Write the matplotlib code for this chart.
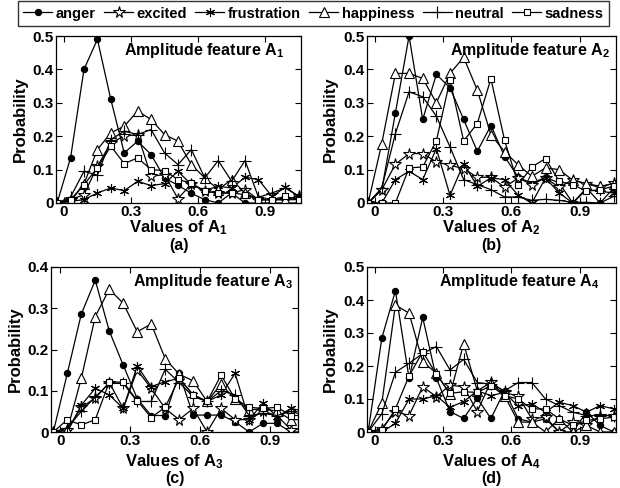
import matplotlib
matplotlib.use("Agg")
import matplotlib.pyplot as plt
import matplotlib.transforms as mtransforms

plt.rcParams['font.family'] = ['Liberation Sans', 'DejaVu Sans']
plt.rcParams['font.weight'] = 'bold'
plt.rcParams['mathtext.fontset'] = 'custom'
plt.rcParams['mathtext.rm'] = 'Liberation Sans:bold'
plt.rcParams['mathtext.it'] = 'Liberation Sans:bold'
plt.rcParams['mathtext.bf'] = 'Liberation Sans:bold'

# bin centres of the amplitude histograms
x = [-0.03, 0.03, 0.09, 0.15, 0.21, 0.27, 0.33, 0.39, 0.45, 0.51,
     0.57, 0.63, 0.69, 0.75, 0.81, 0.87, 0.93, 0.99, 1.05]

emotions = ['anger', 'excited', 'frustration', 'happiness', 'neutral', 'sadness']

# (a) amplitude feature A1
a_anger = [0, 0.135, 0.40, 0.49, 0.31, 0.15, 0.185, 0.145, 0.075, 0.053, 0.029, 0.01, 0.0, 0.03, 0.0, 0.0, 0.0, 0.0, 0.0]
a_excited = [0, 0.01, 0.025, 0.11, 0.18, 0.2, 0.205, 0.08, 0.085, 0.013, 0.057, 0.035, 0.03, 0.03, 0.04, 0.01, 0.01, 0.01, 0.02]
a_frustration = [0, 0.005, 0.01, 0.03, 0.045, 0.037, 0.065, 0.052, 0.058, 0.095, 0.055, 0.038, 0.05, 0.045, 0.077, 0.07, 0.02, 0.047, 0.02]
a_happiness = [0, 0.005, 0.057, 0.16, 0.21, 0.23, 0.275, 0.25, 0.205, 0.185, 0.115, 0.075, 0.04, 0.07, 0.03, 0.01, 0.01, 0.01, 0.01]
a_neutral = [0, 0.018, 0.095, 0.083, 0.19, 0.215, 0.205, 0.22, 0.15, 0.115, 0.16, 0.075, 0.127, 0.065, 0.127, 0.017, 0.03, 0.045, 0.02]
a_sadness = [0, 0.01, 0.055, 0.105, 0.17, 0.118, 0.135, 0.1, 0.097, 0.07, 0.06, 0.035, 0.03, 0.03, 0.025, 0.01, 0.01, 0.02, 0.01]

# (b) amplitude feature A2
b_anger = [0, 0.04, 0.27, 0.5, 0.25, 0.385, 0.345, 0.25, 0.155, 0.232, 0.139, 0.077, 0.059, 0.077, 0.06, 0.0, 0.045, 0.0, 0.045]
b_excited = [0, 0.04, 0.116, 0.148, 0.148, 0.123, 0.113, 0.103, 0.077, 0.077, 0.047, 0.075, 0.055, 0.075, 0.047, 0.07, 0.057, 0.047, 0.06]
b_frustration = [0, 0.0, 0.07, 0.095, 0.07, 0.163, 0.023, 0.118, 0.05, 0.075, 0.07, 0.023, 0.0, 0.075, 0.03, 0.0, 0.04, 0.035, 0.03]
b_happiness = [0, 0.178, 0.388, 0.388, 0.373, 0.3, 0.388, 0.436, 0.338, 0.204, 0.154, 0.114, 0.08, 0.105, 0.1, 0.068, 0.058, 0.05, 0.058]
b_neutral = [0, 0.045, 0.208, 0.333, 0.318, 0.26, 0.168, 0.07, 0.055, 0.04, 0.018, 0.018, 0.008, 0.011, 0.008, 0.002, 0.002, 0.0, 0.02]
b_sadness = [0, 0.0, 0.0, 0.105, 0.108, 0.186, 0.368, 0.186, 0.238, 0.372, 0.188, 0.055, 0.108, 0.133, 0.065, 0.055, 0.035, 0.04, 0.05]

# (c) amplitude feature A3
c_anger = [0, 0.142, 0.286, 0.368, 0.245, 0.162, 0.081, 0.04, 0.04, 0.142, 0.041, 0.041, 0.041, 0.025, 0.0, 0.021, 0.021, 0.0, 0.0]
c_excited = [0, 0.005, 0.06, 0.082, 0.12, 0.057, 0.15, 0.106, 0.057, 0.03, 0.057, 0.0, 0.057, 0.03, 0.03, 0.05, 0.04, 0.005, 0.01]
c_frustration = [0, 0.0, 0.065, 0.106, 0.09, 0.057, 0.16, 0.11, 0.122, 0.13, 0.09, 0.074, 0.09, 0.142, 0.03, 0.07, 0.037, 0.057, 0.05]
c_happiness = [0, 0.005, 0.13, 0.28, 0.346, 0.312, 0.243, 0.262, 0.178, 0.14, 0.124, 0.074, 0.116, 0.079, 0.053, 0.057, 0.05, 0.03, 0.03]
c_neutral = [0, 0.01, 0.05, 0.085, 0.118, 0.118, 0.074, 0.074, 0.152, 0.12, 0.086, 0.074, 0.1, 0.09, 0.04, 0.045, 0.04, 0.05, 0.04]
c_sadness = [0, 0.03, 0.017, 0.03, 0.121, 0.121, 0.076, 0.035, 0.06, 0.13, 0.09, 0.074, 0.138, 0.08, 0.06, 0.057, 0.06, 0.04, 0.04]

# (d) amplitude feature A4
d_anger = [0, 0.284, 0.428, 0.163, 0.347, 0.163, 0.062, 0.041, 0.102, 0.041, 0.125, 0.04, 0.03, 0.04, 0.0, 0.0, 0.06, 0.02, 0.0]
d_excited = [0, 0.01, 0.062, 0.05, 0.137, 0.107, 0.142, 0.137, 0.062, 0.153, 0.12, 0.108, 0.04, 0.045, 0.0, 0.03, 0.02, 0.05, 0.05]
d_frustration = [0, 0.0, 0.026, 0.1, 0.1, 0.11, 0.075, 0.092, 0.125, 0.11, 0.12, 0.078, 0.085, 0.06, 0.09, 0.08, 0.06, 0.08, 0.07]
d_happiness = [0, 0.087, 0.385, 0.36, 0.213, 0.178, 0.114, 0.267, 0.125, 0.15, 0.11, 0.03, 0.03, 0.0, 0.04, 0.0, 0.02, 0.0, 0.0]
d_neutral = [0, 0.055, 0.181, 0.208, 0.238, 0.259, 0.188, 0.22, 0.15, 0.145, 0.125, 0.15, 0.15, 0.1, 0.08, 0.06, 0.05, 0.05, 0.05]
d_sadness = [0, 0.005, 0.07, 0.17, 0.243, 0.175, 0.117, 0.122, 0.12, 0.14, 0.11, 0.1, 0.07, 0.07, 0.04, 0.02, 0.035, 0.04, 0.045]

panels = [
    ('a', 1, [a_anger, a_excited, a_frustration, a_happiness, a_neutral, a_sadness], 0.5),
    ('b', 2, [b_anger, b_excited, b_frustration, b_happiness, b_neutral, b_sadness], 0.5),
    ('c', 3, [c_anger, c_excited, c_frustration, c_happiness, c_neutral, c_sadness], 0.4),
    ('d', 4, [d_anger, d_excited, d_frustration, d_happiness, d_neutral, d_sadness], 0.5),
]

# marker style of every emotion (MATLAB look)
styles = {
    'anger': dict(marker='o', ms=4.5, mfc='black'),
    'excited': dict(marker='*', ms=8.5, mfc='white'),
    'frustration': dict(marker=(6, 2, 0), ms=6.5, mfc='none'),
    'happiness': dict(marker='^', ms=7, mfc='white'),
    'neutral': dict(marker='+', ms=8, mfc='none'),
    'sadness': dict(marker='s', ms=4.5, mfc='white'),
}

# axes rectangles in pixels (left, top, right, bottom) of a 620x488 image
W, H = 620, 488
boxes = {
    'a': (56, 36, 301, 203),
    'b': (367, 36, 616, 203),
    'c': (51, 267, 298, 432),
    'd': (367, 267, 616, 432),
}
xlims = {'a': (-0.035, 1.06), 'b': (-0.035, 1.06), 'c': (-0.04, 1.02), 'd': (-0.035, 1.06)}
# pixel rows of xlabel / panel letter, pixel column of ylabel
xlab_y = {'a': 228, 'b': 228, 'c': 462, 'd': 462}
sub_y = {'a': 246, 'b': 246, 'c': 478, 'd': 478}
ylab_x = {'a': 20, 'b': 330, 'c': 15, 'd': 330}
# where the panel title starts (data x)
title_x = {'a': 0.27, 'b': 0.33, 'c': 0.31, 'd': 0.28}

fig = plt.figure(figsize=(6.2, 4.88), dpi=100)

handles = []
for tag, k, series, ymax in panels:
    l, t, r, b = boxes[tag]
    ax = fig.add_axes([l / W, 1 - b / H, (r - l) / W, (b - t) / H])
    for name, y in zip(emotions, series):
        line, = ax.plot(x, y, color='black', lw=0.9, mec='black', mew=0.8,
                        label=name, **styles[name])
        if tag == 'a':
            handles.append(line)
    ax.set_xlim(*xlims[tag])
    ax.set_ylim(0, ymax)
    ax.set_xticks([0, 0.3, 0.6, 0.9])
    ax.set_xticklabels(['0', '0.3', '0.6', '0.9'])
    yt = [0, 0.1, 0.2, 0.3, 0.4, 0.5][:int(round(ymax * 10)) + 1]
    ax.set_yticks(yt)
    ax.set_yticklabels(['0'] + ['%.1f' % v for v in yt[1:]])
    ax.tick_params(direction='in', top=True, right=True, length=4, width=0.8,
                   labelsize=11, pad=1.5)
    for s in ax.spines.values():
        s.set_linewidth(0.9)

    ax.set_ylabel('Probability', fontsize=12, fontweight='bold')
    ax.yaxis.label.set_va('center')
    ax.yaxis.set_label_coords((ylab_x[tag] - l) / (r - l), 0.5)

    ax.set_xlabel('Values of A$_{%d}$' % k, fontsize=12, fontweight='bold')
    ax.xaxis.label.set_va('center')
    ax.xaxis.set_label_coords(0.5, (b - xlab_y[tag]) / (b - t))

    trans = mtransforms.blended_transform_factory(ax.transData, ax.transAxes)
    ax.text(title_x[tag], 0.915, 'Amplitude feature A$_{%d}$' % k, transform=trans,
            ha='left', va='center', fontsize=11.5, fontweight='bold')
    ax.text(0.5, (b - sub_y[tag]) / (b - t), '(%s)' % tag, transform=ax.transAxes,
            ha='center', va='center', fontsize=11.5, fontweight='bold')

leg = fig.legend(handles=handles, loc='upper center', ncol=6,
                 bbox_to_anchor=(0.5056, 0.997), frameon=True, fancybox=False,
                 edgecolor='black', fontsize=10.5, handlelength=2.0,
                 handletextpad=0.25, columnspacing=0.55, borderpad=0.35,
                 borderaxespad=0.0)
leg.get_frame().set_linewidth(1.0)
for txt in leg.get_texts():
    txt.set_fontweight('bold')

fig.savefig('out.png', dpi=100)
